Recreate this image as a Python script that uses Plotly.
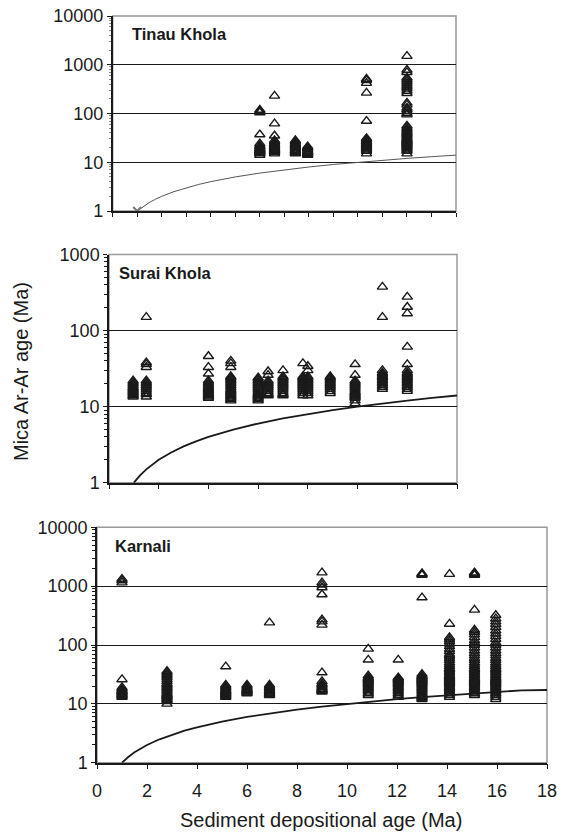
import plotly.graph_objects as go

# ---------------- data ----------------
# Tinau Khola: depositional age (Ma) of each sample and its single-grain mica Ar-Ar ages (Ma)
tinau_ages = [6.0, 6.6, 7.45, 7.95, 10.35, 12.0]
tinau_mica = [
    [14, 15, 15.5, 16, 16.5, 17, 17.5, 18, 18.5, 19, 20, 21, 22, 24, 37, 105, 112, 118],
    [15, 16, 16.5, 17, 17.5, 18, 18.5, 19, 20, 21, 22, 23, 24, 26, 28, 35, 62, 230],
    [15, 15.5, 16, 17, 17.5, 18, 19, 20, 21, 22, 23, 24, 26, 28],
    [14, 14.5, 15, 15.5, 16, 16.5, 17, 18, 19, 20, 21],
    [15, 17, 18, 19, 20, 21, 22, 23, 24, 25, 26, 27, 29, 31, 70, 265, 420, 480, 510],
    [15, 17, 18, 19, 20, 21, 22, 23, 24, 25, 26, 27, 28, 29, 30, 32, 34, 36, 38, 40,
     42, 45, 48, 52, 56, 95, 100, 110, 120, 130, 150, 165, 260, 290, 320, 350, 380,
     420, 460, 500, 540, 700, 780, 1500],
]

# Surai Khola
surai_ages = [0.97, 1.5, 4.0, 4.9, 6.0, 6.4, 7.0, 7.8, 8.0, 8.9, 9.9, 11.0, 12.0]
surai_mica = [
    [13.5, 14, 14.5, 15, 15.5, 16, 16.5, 17, 17.5, 18, 19, 20, 21, 22],
    [13.5, 14.5, 15, 16, 17, 18, 19, 20, 21, 22, 33, 36, 38, 150],
    [13, 13.5, 14, 14.5, 15, 15.5, 16, 16.5, 17, 17.5, 18, 19, 20, 21, 22, 27, 33, 46],
    [12, 12.5, 13, 13.5, 14, 14.5, 15, 15.5, 16, 16.5, 17, 18, 19, 20, 21, 22, 23, 24,
     25, 33, 37, 40],
    [12, 12.5, 13, 13.5, 14, 14.5, 15, 16, 17, 18, 19, 20, 21, 22, 23, 24],
    [14, 14.5, 15, 16, 17, 18, 19, 20, 21, 22, 26, 29],
    [14, 14.5, 15, 16, 17, 18, 19, 20, 21, 22, 23, 24, 25, 30],
    [14, 15, 16, 17, 18, 19, 20, 21, 22, 23, 24, 25, 37],
    [14, 15, 16, 17, 18, 19, 20, 21, 22, 23, 24, 25, 30, 34],
    [15, 16, 17, 18, 19, 20, 21, 22, 23, 24, 25],
    [11, 12, 13, 13.5, 14, 14.5, 15, 15.5, 16, 17, 18, 19, 20, 21, 22, 26, 36],
    [17, 18, 19, 20, 21, 22, 23, 24, 25, 26, 27, 28, 30, 150, 375],
    [16, 17, 18, 19, 20, 21, 22, 23, 24, 25, 26, 27, 28, 30, 36, 61, 168, 204, 277],
]

# Karnali
karnali_ages = [1.0, 2.8, 5.15, 6.0, 6.9, 9.0, 10.85, 12.05, 13.0, 14.1, 15.1, 15.95]
karnali_mica = [
    [13, 13.5, 14, 14.5, 15, 15.5, 16, 16.5, 17, 18, 19, 26, 1150, 1250, 1320],
    [10, 11, 11.5, 12, 12.5, 13, 13.5, 14, 14.5, 15, 16, 17, 18, 19, 20, 21, 22, 24,
     26, 28, 30, 32, 34, 36],
    [13, 13.5, 14, 14.5, 15, 15.5, 16, 16.5, 17, 18, 19, 20, 21, 43],
    [15, 15.5, 16, 16.5, 17, 17.5, 18, 19, 20, 21],
    [14, 14.5, 15, 15.5, 16, 16.5, 17, 18, 19, 20, 21, 240],
    [16, 16.5, 17, 17.5, 18, 19, 20, 21, 22, 24, 34, 220, 250, 270, 720, 950, 1050,
     1150, 1700],
    [14, 15, 16, 17, 18, 19, 20, 21, 22, 23, 24, 25, 26, 27, 28, 30, 56, 86],
    [13, 14, 15, 16, 17, 18, 19, 20, 21, 22, 23, 24, 25, 26, 27, 28, 56],
    [12, 12.5, 13, 13.5, 14, 15, 16, 17, 18, 19, 20, 21, 22, 23, 24, 25, 26, 27, 28,
     29, 30, 32, 640, 1550, 1600, 1650],
    [13, 14, 15, 16, 17, 18, 19, 20, 21, 22, 23, 24, 25, 26, 27, 28, 29, 30, 32, 34,
     36, 38, 40, 43, 46, 50, 55, 60, 65, 70, 78, 85, 95, 105, 115, 125, 135, 228, 1600],
    [14, 15, 16, 17, 18, 19, 20, 21, 22, 23, 24, 25, 26, 27, 28, 30, 32, 34, 36, 38,
     40, 43, 46, 50, 55, 60, 66, 72, 80, 90, 100, 110, 120, 135, 150, 165, 180, 395,
     1550, 1600, 1650, 1700],
    [12, 13, 14, 15, 16, 17, 18, 19, 20, 21, 22, 23, 24, 25, 26, 27, 28, 30, 32, 34,
     36, 38, 40, 43, 46, 50, 55, 60, 66, 72, 80, 90, 100, 110, 125, 140, 155, 175,
     200, 225, 250, 280, 320],
]

# Reference line: mica age equal to depositional age (zero lag time)
lag_x_top = [1, 1.25, 1.5, 1.75, 2, 2.5, 3, 3.5, 4, 5, 6, 7, 8, 9, 10, 11, 12, 13, 14]
lag_y_top = [1, 1.25, 1.5, 1.75, 2, 2.5, 3, 3.5, 4, 5, 6, 7, 8, 9, 10, 11, 12, 13, 14]
lag_x_mid = [1, 1.25, 1.5, 1.75, 2, 2.5, 3, 3.5, 4, 5, 6, 7, 8, 9, 10, 11, 12, 13, 14]
lag_y_mid = [1, 1.25, 1.5, 1.75, 2, 2.5, 3, 3.5, 4, 5, 6, 7, 8, 9, 10, 11, 12, 13, 14]
lag_x_bot = [1, 1.25, 1.5, 1.75, 2, 2.5, 3, 3.5, 4, 5, 6, 7, 8, 9, 10, 11, 12, 13,
             14, 15, 16, 17, 18]
lag_y_bot = [1, 1.25, 1.5, 1.75, 2, 2.5, 3, 3.5, 4, 5, 6, 7, 8, 9, 10, 11, 12, 13,
             14, 15, 16, 17, 17.2]

panel_names = ["Tinau Khola", "Surai Khola", "Karnali"]
y_tick_values = [1, 10, 100, 1000, 10000]
x_tick_labels = ["0", "2", "4", "6", "8", "10", "12", "14", "16", "18"]

# ---------------- figure ----------------
W, H = 579, 834
FONT = "Liberation Sans, Arial, Helvetica, sans-serif"
INK = "#1a1a1a"


def px_x(p):
    return p / W


def px_y(p):
    return 1 - p / H


fig = go.Figure()


def flatten(ages, mica):
    xs, ys = [], []
    for a, vals in zip(ages, mica):
        xs += [a] * len(vals)
        ys += vals
    return xs, ys


marker_style = dict(symbol="triangle-up-open", size=9, color=INK,
                    line=dict(width=1.4, color=INK))

panels = [
    (tinau_ages, tinau_mica, lag_x_top, lag_y_top, "x", "y"),
    (surai_ages, surai_mica, lag_x_mid, lag_y_mid, "x2", "y2"),
    (karnali_ages, karnali_mica, lag_x_bot, lag_y_bot, "x3", "y3"),
]

for i, (ages, mica, lx, ly, xa, ya) in enumerate(panels):
    line_col = "#555555" if i == 0 else INK
    line_w = 1.0 if i == 0 else 1.8
    fig.add_trace(go.Scatter(x=lx, y=ly, mode="lines",
                             line=dict(color=line_col, width=line_w),
                             xaxis=xa, yaxis=ya, showlegend=False,
                             hoverinfo="skip"))
    xs, ys = flatten(ages, mica)
    fig.add_trace(go.Scatter(x=xs, y=ys, mode="markers", marker=marker_style,
                             xaxis=xa, yaxis=ya, showlegend=False))

# start point of the zero-lag line in the top panel
fig.add_trace(go.Scatter(x=lag_x_top[:1], y=lag_y_top[:1], mode="markers",
                         marker=dict(symbol="x-thin-open", size=8, color="#777777",
                                     line=dict(width=2, color="#777777")),
                         xaxis="x", yaxis="y", showlegend=False))

# panel geometry in pixels: (left, right, top, bottom)
geo = [(112.7, 456.0, 16.0, 211.0),
       (109.0, 457.0, 254.5, 482.7),
       (97.0, 547.0, 527.3, 762.7)]
y_ranges = [[0, 4], [0, 3], [0, 4]]
x_ranges = [[0, 14], [0, 14], [0, 18]]
x_dticks = [1, 2, 2]

minor_vals = [m * 10 ** e for e in range(0, 4) for m in range(2, 10)]

for i, (l, r, t, b) in enumerate(geo):
    sfx = "" if i == 0 else str(i + 1)
    top_exp = y_ranges[i][1]
    tv = [v for v in y_tick_values if v <= 10 ** top_exp]
    yax = dict(
        type="log", range=y_ranges[i], domain=[px_y(b), px_y(t)],
        anchor="x" + sfx, tickmode="array", tickvals=tv,
        ticktext=[str(v) for v in tv],
        showgrid=True, gridcolor=INK, gridwidth=1.2,
        showline=True, linecolor=INK, linewidth=1.5,
        ticks="outside", ticklen=4, tickcolor=INK, tickwidth=1,
        tickfont=dict(family=FONT, size=18, color=INK),
        zeroline=False, automargin=False, fixedrange=True,
        minor=dict(tickmode="array", tickvals=minor_vals,
                   ticks="outside", ticklen=3 if i else 2,
                   tickcolor=INK if i else "#888888",
                   tickwidth=1, showgrid=False),
    )
    xax = dict(
        range=x_ranges[i], domain=[px_x(l), px_x(r)], anchor="y" + sfx,
        tick0=0, dtick=x_dticks[i], showgrid=False, zeroline=False,
        showline=True, linecolor=INK, linewidth=1.5,
        ticks="outside", ticklen=5 if i else 4, tickcolor=INK, tickwidth=1,
        showticklabels=(i == 2), ticklabelstandoff=6,
        tickfont=dict(family=FONT, size=18, color=INK),
        automargin=False, fixedrange=True,
    )
    if i == 2:
        xax["tickmode"] = "array"
        xax["tickvals"] = [int(s) for s in x_tick_labels]
        xax["ticktext"] = x_tick_labels
    fig.update_layout(**{"xaxis" + sfx: xax, "yaxis" + sfx: yax})

    # light frame on the top and right edges
    fig.add_shape(type="rect", xref="x" + sfx + " domain", yref="y" + sfx + " domain",
                  x0=0, x1=1, y0=0, y1=1, line=dict(color="#9a9a9a", width=1.5),
                  layer="below")

# panel labels
label_pos = [(130, 34), (117, 273), (113, 546)]
for name, (lx, ly) in zip(panel_names, label_pos):
    fig.add_annotation(text="<b>%s</b>" % name, xref="paper", yref="paper",
                       x=px_x(lx), y=px_y(ly), xanchor="left", yanchor="middle",
                       showarrow=False, font=dict(family=FONT, size=16.5, color=INK))

# axis titles
fig.add_annotation(text="Sediment depositional age (Ma)", xref="paper", yref="paper",
                   x=px_x(321), y=px_y(820), xanchor="center", yanchor="middle",
                   showarrow=False, font=dict(family=FONT, size=20, color=INK))
fig.add_annotation(text="Mica Ar-Ar age (Ma)", xref="paper", yref="paper",
                   x=px_x(21), y=px_y(372), xanchor="center", yanchor="middle",
                   textangle=-90, showarrow=False,
                   font=dict(family=FONT, size=20, color=INK))

fig.update_layout(width=W, height=H, margin=dict(l=0, r=0, t=0, b=0),
                  paper_bgcolor="white", plot_bgcolor="white", showlegend=False)

fig.write_html("out.html")
